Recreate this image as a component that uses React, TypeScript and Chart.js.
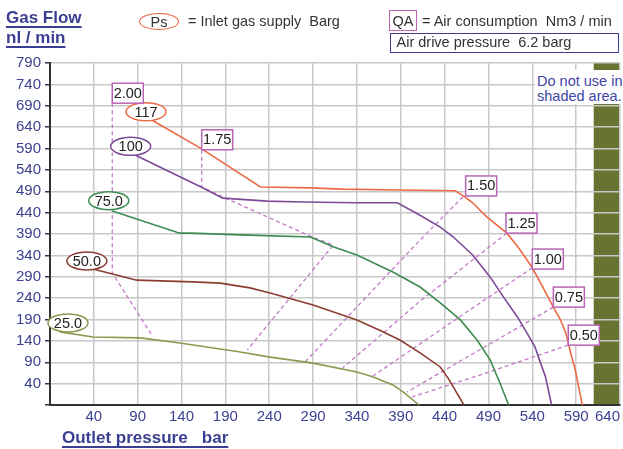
import React, { useEffect, useRef } from "react";
import { Chart, registerables } from "chart.js";

Chart.register(...registerables);

// ---- axis ranges ----
const xMin = -10;
const xMax = 640;
const yMin = -10;
const yMax = 790;
const tickStep = 50;

// ---- Ps curves (outlet pressure bar, gas flow nl/min) ----
const curve117: [number, number][] = [
  [104, 659], [163, 589], [230, 500], [287, 498], [324, 495], [389, 493], [452, 491],
  [463, 477], [472, 463], [488, 430], [511, 392], [526, 353], [540, 311], [552, 266],
  [564, 219], [572, 190], [578, 160], [581, 135], [584, 110], [589, 72], [597, -10],
];
const curve100: [number, number][] = [
  [87, 575], [164, 498], [187, 474], [238, 467], [279, 465], [336, 463], [386, 463],
  [412, 434], [435, 406], [450, 383], [472, 341], [492, 289], [507, 243], [523, 196],
  [534, 158], [543, 126], [547, 102], [555, 56], [562, -10],
];
const curve75: [number, number][] = [
  [61, 444], [138, 392], [150, 392], [207, 388], [287, 383], [313, 360], [340, 341],
  [381, 301], [412, 266], [435, 229], [458, 189], [477, 142], [492, 95], [503, 42], [513, -10],
];
const curve50: [number, number][] = [
  [39, 308], [89, 282], [153, 278], [184, 275], [218, 264], [241, 252], [290, 224],
  [340, 189], [366, 165], [389, 142], [412, 112], [435, 79], [444, 53], [454, 18], [462, -10],
];
const curve25: [number, number][] = [
  [1, 161], [39, 149], [93, 147], [138, 135], [207, 114], [241, 102], [290, 88],
  [340, 67], [358, 56], [381, 37], [393, 20], [411, -10],
];

// ---- constant air consumption (QA) lines ----
const qa200: [number, number][] = [[61, 696], [61, 299], [106, 154]];
const qa175: [number, number][] = [[163, 587], [163, 500], [190, 474], [289, 383], [313, 364], [215, 119]];
const qa150: [number, number][] = [[461, 477], [412, 376], [281, 91]];
const qa125: [number, number][] = [[511, 392], [412, 233], [324, 77]];
const qa100: [number, number][] = [[540, 311], [446, 181], [355, 53]];
const qa075: [number, number][] = [[564, 219], [469, 106], [397, 20]];
const qa050: [number, number][] = [[581, 130], [480, 60], [403, 9]];

// ---- labels ----
const psNames = ["117", "100", "75.0", "50.0", "25.0"];
const psLabelX = [99.5, 82, 57, 32, 10.5];
const psLabelY = [676, 595, 468, 327, 182];

const qaNames = ["2.00", "1.75", "1.50", "1.25", "1.00", "0.75", "0.50"];
const qaLabelX = [61, 163, 464, 510, 540, 564, 581];
const qaLabelY = [696, 587, 479, 392, 308, 219, 130];

// ---- shaded (do not use) region ----
const shadeFrom = 610;
const shadeTo = 640;

const FONT = '"Liberation Sans", Arial, sans-serif';
const NAVY = "#3b3f91";
const TICK_NAVY = "#3d4190";
const DASH = "#c27ac6";
const QA_BOX = "#b865b5";

const psColors = ["#ee6a45", "#7d4a96", "#3c8c50", "#8c3c30", "#8a9a50"];

const toPts = (arr: [number, number][]) => arr.map(([x, y]) => ({ x, y }));

const annotate = {
  id: "annotate",
  beforeDraw(chart: any) {
    const { ctx, chartArea, scales } = chart;
    const l = scales.x.getPixelForValue(shadeFrom);
    const r = scales.x.getPixelForValue(shadeTo);
    ctx.save();
    ctx.fillStyle = "#697331";
    ctx.fillRect(l, chartArea.top, r - l, chartArea.bottom - chartArea.top);
    ctx.restore();
  },
  afterDatasetsDraw(chart: any) {
    const { ctx, scales } = chart;
    ctx.save();
    ctx.font = `14.5px ${FONT}`;
    ctx.textAlign = "center";
    ctx.textBaseline = "middle";
    // ellipses for Ps curves
    psNames.forEach((name, i) => {
      const cx = scales.x.getPixelForValue(psLabelX[i]);
      const cy = scales.y.getPixelForValue(psLabelY[i]);
      ctx.beginPath();
      ctx.ellipse(cx, cy, 20, 9, 0, 0, Math.PI * 2);
      ctx.fillStyle = "#ffffff";
      ctx.fill();
      ctx.lineWidth = 1.5;
      ctx.strokeStyle = psColors[i];
      ctx.stroke();
      ctx.fillStyle = "#222222";
      ctx.fillText(name, cx, cy + 1);
    });
    // QA boxes
    qaNames.forEach((name, i) => {
      const px = scales.x.getPixelForValue(qaLabelX[i]);
      const py = scales.y.getPixelForValue(qaLabelY[i]);
      ctx.fillStyle = "#ffffff";
      ctx.fillRect(px, py - 20, 31, 20);
      ctx.lineWidth = 1.5;
      ctx.strokeStyle = QA_BOX;
      ctx.strokeRect(px, py - 20, 31, 20);
      ctx.fillStyle = "#222222";
      ctx.fillText(name, px + 15.5, py - 9.5);
    });
    ctx.restore();
  },
};

export default function App() {
  const ref = useRef<HTMLCanvasElement>(null);

  useEffect(() => {
    const curves = [curve117, curve100, curve75, curve50, curve25];
    const dashed = [qa200, qa175, qa150, qa125, qa100, qa075, qa050];
    const datasets: any[] = [
      ...curves.map((c, i) => ({
        data: toPts(c),
        borderColor: psColors[i],
        borderWidth: 1.6,
        pointRadius: 0,
        showLine: true,
        tension: 0,
      })),
      ...dashed.map((c) => ({
        data: toPts(c),
        borderColor: DASH,
        borderWidth: 1.3,
        borderDash: [4, 3],
        pointRadius: 0,
        showLine: true,
        tension: 0,
      })),
    ];
    const chart = new Chart(ref.current as HTMLCanvasElement, {
      type: "scatter",
      data: { datasets },
      options: {
        responsive: false,
        maintainAspectRatio: false,
        animation: false,
        events: [],
        layout: { padding: { top: 63, right: 3, left: 0, bottom: 0 } },
        plugins: { legend: { display: false }, tooltip: { enabled: false } },
        scales: {
          x: {
            type: "linear",
            min: xMin,
            max: xMax,
            ticks: {
              stepSize: tickStep,
              color: TICK_NAVY,
              font: { family: FONT, size: 15 },
              padding: 3,
              align: "inner",
              maxRotation: 0,
              autoSkip: false,
              callback: (v: any) => (v === xMin ? "" : String(v)),
            },
            grid: { color: "#c8c8c8", lineWidth: 1.5, drawTicks: false },
            border: { color: "#333333", width: 2 },
            afterFit: (s: any) => {
              s.height = 44;
              s.paddingRight = 0;
              s.paddingLeft = 0;
            },
          },
          y: {
            type: "linear",
            min: yMin,
            max: yMax,
            ticks: {
              stepSize: tickStep,
              color: TICK_NAVY,
              font: { family: FONT, size: 15 },
              padding: 4,
              autoSkip: false,
              callback: (v: any) => (v === yMin ? "" : String(v)),
            },
            grid: { color: "#c8c8c8", lineWidth: 1.5, tickLength: 5, tickColor: "#333355" },
            border: { color: "#333333", width: 2 },
            afterFit: (s: any) => {
              s.width = 50;
            },
          },
        },
      } as any,
      plugins: [annotate],
    });
    return () => chart.destroy();
  }, []);

  const titleStyle: React.CSSProperties = {
    fontWeight: "bold",
    fontSize: 17,
    lineHeight: "19.5px",
    color: NAVY,
    textDecoration: "underline",
    textDecorationThickness: "2px",
    textUnderlineOffset: "3px",
    textDecorationSkipInk: "none",
    whiteSpace: "pre",
  } as React.CSSProperties;
  const legendText: React.CSSProperties = {
    position: "absolute",
    fontSize: 14.5,
    lineHeight: "17px",
    color: "#333333",
    whiteSpace: "pre",
  };

  return (
    <div
      style={{
        position: "fixed",
        left: 0,
        top: 0,
        width: 623,
        height: 449,
        background: "#ffffff",
        fontFamily: FONT,
        overflow: "hidden",
      }}
    >
      <canvas
        ref={ref}
        width={623}
        height={449}
        style={{ position: "absolute", left: 0, top: 0, width: 623, height: 449 }}
      />
      <div style={{ position: "absolute", left: 6, top: 8 }}>
        <div style={titleStyle}>Gas Flow</div>
        <div style={titleStyle}>nl / min</div>
      </div>
      <div style={{ position: "absolute", left: 62, top: 427.5 }}>
        <div style={titleStyle}>{"Outlet pressure   bar"}</div>
      </div>
      <div
        style={{
          position: "absolute",
          left: 139,
          top: 13,
          width: 40,
          height: 17,
          boxSizing: "border-box",
          border: "1.5px solid #e8603c",
          borderRadius: "50%",
          display: "flex",
          alignItems: "center",
          justifyContent: "center",
          fontSize: 14.5,
          color: "#333333",
        }}
      >
        Ps
      </div>
      <div style={{ ...legendText, left: 188, top: 12.7 }}>{"= Inlet gas supply  Barg"}</div>
      <div
        style={{
          position: "absolute",
          left: 389,
          top: 10,
          width: 28,
          height: 21,
          boxSizing: "border-box",
          border: `1.5px solid ${QA_BOX}`,
          display: "flex",
          alignItems: "center",
          justifyContent: "center",
          fontSize: 14.5,
          color: "#333333",
        }}
      >
        QA
      </div>
      <div style={{ ...legendText, left: 422, top: 12.7 }}>{"= Air consumption  Nm3 / min"}</div>
      <div
        style={{
          position: "absolute",
          left: 390,
          top: 33,
          width: 229,
          height: 20,
          boxSizing: "border-box",
          border: `1.5px solid ${NAVY}`,
          paddingLeft: 5.5,
          fontSize: 14.5,
          lineHeight: "17px",
          color: "#333333",
          whiteSpace: "pre",
        }}
      >
        {"Air drive pressure  6.2 barg"}
      </div>
      <div
        style={{
          position: "absolute",
          left: 535,
          top: 70,
          width: 88,
          height: 34,
          boxSizing: "border-box",
          background: "#ffffff",
          padding: "4px 0 0 2px",
          fontSize: 14.5,
          lineHeight: "15px",
          color: "#4045a5",
          whiteSpace: "pre",
        }}
      >
        {"Do not use in\nshaded area."}
      </div>
    </div>
  );
}
